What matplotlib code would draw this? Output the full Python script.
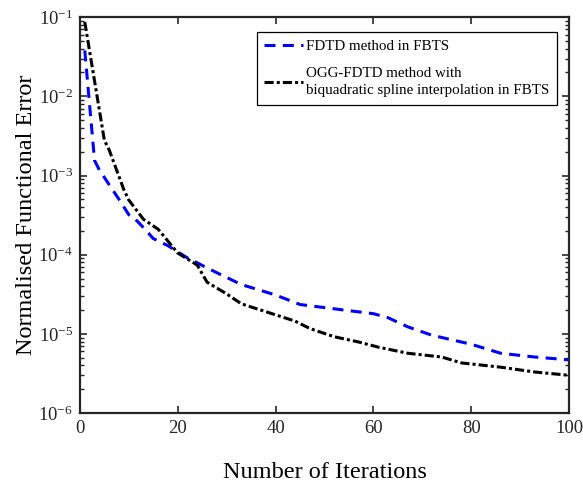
import matplotlib
matplotlib.use("Agg")
import matplotlib.pyplot as plt

plt.rcParams['font.family'] = ['Liberation Serif', 'DejaVu Serif']
plt.rcParams['mathtext.fontset'] = 'custom'
plt.rcParams['mathtext.rm'] = 'Liberation Serif'

# ── data ──────────────────────────────────────────
iter_fdtd = [1, 3, 4, 8, 10, 11, 13, 15, 18, 22, 24, 26, 33, 40, 45, 54, 60, 63, 67, 72, 80, 86, 93, 100]
err_fdtd = [3.8e-2, 1.55e-3, 1.17e-3, 5.0e-4, 3.2e-4, 2.95e-4, 2.2e-4, 1.6e-4, 1.3e-4, 9.1e-5,
            7.9e-5, 6.8e-5, 4.2e-5, 3.1e-5, 2.35e-5, 2.0e-5, 1.8e-5, 1.6e-5, 1.23e-5, 9.6e-6,
            7.4e-6, 5.7e-6, 5.1e-6, 4.7e-6]

iter_ogg = [1, 5, 6, 9, 10, 13, 16, 20, 24, 26, 30, 33, 40, 44, 47, 52, 57, 61, 67, 74, 78, 86, 93, 100]
err_ogg = [8.7e-2, 2.8e-3, 2.1e-3, 6.6e-4, 4.9e-4, 2.8e-4, 2.1e-4, 1.05e-4, 7.4e-5, 4.5e-5,
           3.2e-5, 2.4e-5, 1.74e-5, 1.45e-5, 1.17e-5, 9.2e-6, 7.9e-6, 6.8e-6, 5.7e-6, 5.1e-6,
           4.3e-6, 3.8e-6, 3.3e-6, 3.0e-6]

labels = ["FDTD method in FBTS",
          "OGG-FDTD method with\nbiquadratic spline interpolation in FBTS"]

# ── plot ──────────────────────────────────────────
fig = plt.figure(figsize=(5.83, 4.90), dpi=100)
ax = fig.add_axes([0.137, 0.157, 0.839, 0.808])

ax.semilogy(iter_fdtd, err_fdtd, color='#0000ff', lw=2.2, linestyle=(0, (3.6, 2.4)), label=labels[0])
ax.semilogy(iter_ogg, err_ogg, color='black', lw=2.2, linestyle=(0, (3.0, 1.0, 1.0, 1.0)), label=labels[1])

ax.set_xlim(0, 100)
ax.set_ylim(1e-6, 1e-1)
ax.set_xticks([0, 20, 40, 60, 80, 100])
ax.tick_params(which='both', direction='in', top=True, right=True, labelsize=13.5, colors='#262626')
ax.tick_params(which='major', length=5, width=1.2, pad=5)
ax.tick_params(which='minor', length=3, width=1)
for s in ax.spines.values():
    s.set_linewidth(1.6)
    s.set_color('#262626')

ax.set_xlabel("Number of Iterations", fontsize=17.5, labelpad=18)
ax.set_ylabel("Normalised Functional Error", fontsize=17.5, labelpad=1)

leg = ax.legend(loc='upper right', bbox_to_anchor=(0.975, 0.962), fontsize=10.8,
                fancybox=False, edgecolor='black', framealpha=1, handlelength=2.6,
                borderaxespad=0, handletextpad=0.2, labelspacing=0.9, borderpad=0.5)
leg.get_frame().set_linewidth(0.9)
for t in leg.get_texts():
    t.set_linespacing(1.45)

fig.savefig("out.png", dpi=100)
